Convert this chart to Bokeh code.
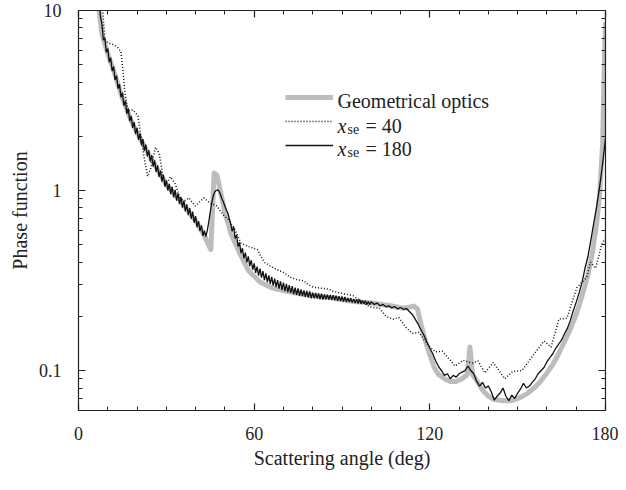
import numpy as np
from bokeh.plotting import figure
from bokeh.models import (Range1d, FixedTicker, LogAxis, LinearAxis, Legend, LegendItem,
                          Label, CustomJSTickFormatter)
from bokeh.embed import file_html
from bokeh.resources import INLINE

FONT = "Liberation Serif"

# ---------------- data ----------------
x_ticks = [0, 60, 120, 180]
y_ticks = [0.1, 1, 10]
legend_title = "Geometrical optics"
xse_values = [40, 180]

# Geometrical optics (smooth, thick gray)
geo_x = [6.5, 8, 10, 12, 15, 18, 20, 25, 30, 35, 40, 43, 45.2, 46.3, 47.3, 48.5, 50, 52, 55, 58,
         62, 66, 70, 75, 80, 86, 94, 100, 106, 111, 113, 114.5, 115.8, 117, 118.5, 120, 121.5, 123,
         125, 127, 129, 131, 132.8, 133.7, 134.6, 136, 138, 140, 142, 145, 148, 151, 153.5, 156, 158,
         160, 162, 164, 166, 168, 170, 172, 174, 175.5, 177, 178, 179, 179.6, 180]
geo_y = [12, 7.4, 5.75, 4.64, 3.26, 2.44, 2.1, 1.48, 1.08, 0.87, 0.68, 0.56, 0.47, 1.25, 1.22, 0.98,
         0.76, 0.58, 0.45, 0.36, 0.31, 0.288, 0.278, 0.268, 0.261, 0.254, 0.242, 0.237, 0.23, 0.222,
         0.225, 0.228, 0.22, 0.18, 0.146, 0.122, 0.104, 0.095, 0.09, 0.087, 0.087, 0.09, 0.095, 0.135,
         0.095, 0.088, 0.078, 0.072, 0.069, 0.068, 0.068, 0.071, 0.075, 0.081, 0.088, 0.097, 0.108,
         0.124, 0.145, 0.17, 0.205, 0.26, 0.34, 0.45, 0.66, 0.95, 1.8, 5.0, 8.6]

# x_se = 40 (dotted)
x40_x = [8.2, 9, 10.1, 12, 13.5, 14.5, 15.2, 15.8, 16.9, 18.6, 20.3, 21.4, 22.5, 23.6, 24.7, 26.3,
         27.6, 28.7, 29.8, 31.4, 33, 34.8, 36.5, 37.7, 39.9, 42.8, 45, 47.3, 49.5, 51.6, 53.3, 55.5,
         57.8, 61.1, 63.4, 66.8, 70.1, 72.4, 74.5, 76.9, 78.5, 80.3, 83.6, 85.5, 87, 90.4, 93.8, 97,
         99.4, 102.8, 105, 107.4, 109.4, 111.8, 114, 116.3, 119.1, 121.9, 124.2, 127, 128.6, 131.4,
         134.4, 136.5, 138.8, 141.6, 145.6, 148.3, 151.5, 154.7, 159, 161.4, 164.1, 166.8, 170.2,
         173.6, 174.9, 176.6, 178.7, 179.8]
x40_y = [10.5, 6.9, 6.6, 6.45, 6.2, 5.9, 4.6, 3.56, 2.77, 2.8, 2.6, 1.97, 1.5, 1.2, 1.33, 1.74,
         1.6, 1.24, 1.08, 1.19, 1.09, 0.9, 0.88, 0.91, 0.82, 0.91, 0.85, 0.82, 0.73, 0.68, 0.61, 0.51,
         0.49, 0.47, 0.4, 0.37, 0.35, 0.33, 0.32, 0.315, 0.3, 0.29, 0.286, 0.283, 0.275, 0.268, 0.26,
         0.24, 0.226, 0.222, 0.2, 0.193, 0.197, 0.174, 0.161, 0.163, 0.14, 0.127, 0.128, 0.114, 0.106,
         0.114, 0.11, 0.113, 0.097, 0.111, 0.09, 0.099, 0.1, 0.118, 0.146, 0.135, 0.193, 0.195, 0.288,
         0.33, 0.4, 0.37, 0.5, 0.54]

# x_se = 180 (solid black): half-degree samples 7..100, then 1-degree samples 101..180
x180_x = list(np.arange(7, 100.25, 0.5)) + list(np.arange(101, 181, 1))
x180_y = [
    11.5, 9.3, 8.37, 6.85, 7.0, 5.86, 6.15, 5.17, 5.46, 4.61,
    4.88, 4.11, 4.35, 3.68, 3.90, 3.30, 3.50, 2.96, 3.15, 2.67,
    2.85, 2.43, 2.60, 2.23, 2.40, 2.06, 2.23, 1.91, 2.07, 1.78,
    1.93, 1.66, 1.80, 1.55, 1.67, 1.45, 1.57, 1.36, 1.47, 1.27,
    1.38, 1.19, 1.29, 1.12, 1.22, 1.05, 1.14, 1.00, 1.09, 0.955,
    1.05, 0.917, 1.01, 0.879, 0.965, 0.841, 0.922, 0.803, 0.88, 0.765,
    0.837, 0.73, 0.80, 0.697, 0.763, 0.662, 0.721, 0.626, 0.677, 0.596,
    0.64, 0.56, 0.598, 0.555, 0.60, 0.67, 0.76, 0.85, 0.93, 0.98,
    1.0, 1.01, 0.99, 0.95, 0.90, 0.86, 0.82, 0.78, 0.75, 0.70,
    0.65, 0.594, 0.63, 0.542, 0.567, 0.489, 0.515, 0.449, 0.478, 0.42,
    0.452, 0.399, 0.431, 0.38, 0.41, 0.363, 0.394, 0.349, 0.378, 0.337,
    0.368, 0.328, 0.357, 0.318, 0.347, 0.31, 0.338, 0.303, 0.331, 0.296,
    0.324, 0.291, 0.318, 0.285, 0.313, 0.281, 0.308, 0.276, 0.303, 0.273,
    0.298, 0.27, 0.294, 0.266, 0.289, 0.263, 0.286, 0.26, 0.282, 0.259,
    0.279, 0.256, 0.277, 0.254, 0.275, 0.252, 0.271, 0.252, 0.27, 0.251,
    0.268, 0.249, 0.267, 0.248, 0.265, 0.249, 0.264, 0.248, 0.263, 0.247,
    0.262, 0.246, 0.261, 0.244, 0.259, 0.243, 0.258, 0.242, 0.256, 0.241,
    0.253, 0.24, 0.252, 0.239, 0.25, 0.237, 0.249, 0.236, 0.248, 0.235,
    0.245, 0.235, 0.244, 0.233, 0.242, 0.232, 0.241,
    # 101 .. 180
    0.233, 0.237, 0.229, 0.233, 0.226, 0.229, 0.223, 0.227, 0.22, 0.224,
    0.219, 0.221, 0.213, 0.205, 0.193, 0.181, 0.168, 0.157, 0.144, 0.133,
    0.124, 0.113, 0.105, 0.1, 0.094, 0.096, 0.09, 0.094, 0.092, 0.096,
    0.098, 0.1, 0.106, 0.1, 0.096, 0.087, 0.082, 0.086, 0.08, 0.082,
    0.076, 0.0686, 0.072, 0.075, 0.08, 0.072, 0.068, 0.073, 0.07, 0.075,
    0.079, 0.085, 0.08, 0.082, 0.086, 0.09, 0.096, 0.1, 0.104, 0.112,
    0.118, 0.124, 0.133, 0.14, 0.148, 0.16, 0.172, 0.19, 0.215, 0.24,
    0.27, 0.31, 0.37, 0.43, 0.53, 0.66, 0.82, 1.05, 1.4, 1.95,
]

# ---------------- figure ----------------
p = figure(width=618, height=474, x_range=Range1d(0, 180), y_range=Range1d(0.06, 10),
           y_axis_type="log", output_backend="svg", toolbar_location=None,
           min_border_left=78, min_border_right=13, min_border_top=10, min_border_bottom=64)
p.grid.visible = False
p.outline_line_color = None
p.background_fill_color = "white"
p.border_fill_color = "white"

xticker = FixedTicker(ticks=x_ticks, minor_ticks=list(range(0, 181, 10)))
y_minor = [m * d for d in (0.01, 0.1, 1) for m in range(2, 10) if m * d >= 0.06]
yticker = FixedTicker(ticks=y_ticks, minor_ticks=y_minor)

AX = "#222222"


def style(ax, labels=True):
    ax.axis_line_color = AX
    ax.axis_line_width = 1.2
    ax.major_tick_in = 7
    ax.major_tick_out = 0
    ax.minor_tick_in = 4
    ax.minor_tick_out = 0
    ax.major_tick_line_color = AX
    ax.minor_tick_line_color = AX
    ax.major_tick_line_width = 1.2
    ax.minor_tick_line_width = 1.0
    ax.major_label_text_font = FONT
    ax.major_label_text_color = AX
    ax.axis_label_text_font = FONT
    ax.axis_label_text_font_size = "20px"
    ax.axis_label_text_font_style = "normal"
    ax.axis_label_text_color = AX
    if labels:
        ax.major_label_text_font_size = "18px"
    else:
        ax.major_label_text_font_size = "1px"
        ax.major_label_text_color = None
        ax.major_label_standoff = 0


xa = p.xaxis[0]
style(xa)
xa.ticker = xticker
xa.axis_label = "Scattering angle (deg)"
xa.major_label_standoff = 16
xa.axis_label_standoff = 4

ya = p.yaxis[0]
style(ya)
ya.ticker = yticker
ya.axis_label = "Phase function"
ya.major_label_standoff = 17
ya.axis_label_standoff = 5
ya.formatter = CustomJSTickFormatter(code="return tick >= 1 ? tick.toFixed(0) : tick.toFixed(1);")

top = LinearAxis()
style(top, labels=False)
top.ticker = xticker
p.add_layout(top, "above")

right = LogAxis()
style(right, labels=False)
right.ticker = yticker
p.add_layout(right, "right")

# ---------------- curves ----------------
r_geo = p.line(geo_x, geo_y, line_color="#bdbdbd", line_width=5, line_join="round")
r_40 = p.line(x40_x, x40_y, line_color="#111111", line_width=1.5, line_dash="1 2")
r_180 = p.line(x180_x, x180_y, line_color="#111111", line_width=1.3)

legend = Legend(items=[LegendItem(label=" ", renderers=[r_geo]),
                       LegendItem(label=" ", renderers=[r_40]),
                       LegendItem(label=" ", renderers=[r_180])],
                location=(207, 253), orientation="vertical", padding=0, margin=0, spacing=0,
                glyph_width=48, glyph_height=24, label_height=24, label_width=1, label_standoff=0,
                label_text_font_size="10px", border_line_color=None, background_fill_alpha=0)
p.add_layout(legend)


def lab(text, x, y, size="20px", style_="normal"):
    p.add_layout(Label(x=x, y=y, x_units="screen", y_units="screen", text=text,
                       text_font=FONT, text_font_size=size, text_font_style=style_,
                       text_baseline="alphabetic", text_align="left", text_color=AX))


lab(legend_title, 259, 310)
for v, yb in zip(xse_values, [285, 262]):
    lab("x", 259, yb, style_="italic")
    lab("se", 269, yb - 4, size="14px")
    lab("= %d" % v, 287, yb)

open("out.html", "w").write(file_html(p, INLINE))
